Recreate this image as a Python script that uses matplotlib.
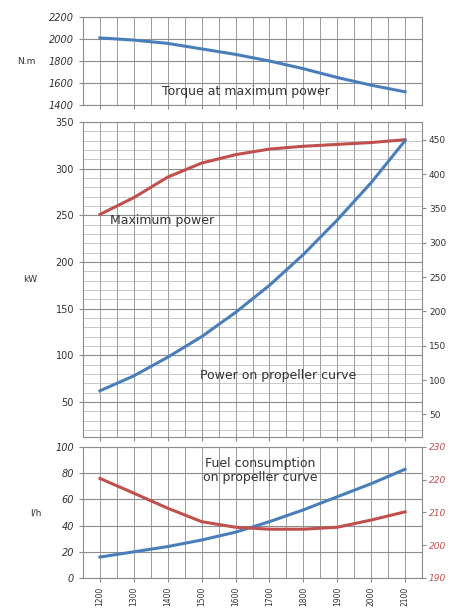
import numpy as np
import matplotlib.pyplot as plt
from matplotlib.ticker import MultipleLocator

# rpm categories
rpm = [1200, 1300, 1400, 1500, 1600, 1700, 1800, 1900, 2000, 2100]

# torque at maximum power (N.m)
torque = [2010, 1990, 1960, 1910, 1860, 1800, 1730, 1650, 1580, 1520]
# maximum power (kW)
p_max = [251, 269, 291, 306, 315, 321, 324, 326, 328, 331]
# power on propeller curve (kW)
p_prop = [62, 78, 98, 120, 146, 175, 208, 245, 285, 330]
# fuel consumption on propeller curve (l/h)
fuel_lh = [16, 20, 24, 29, 35, 43, 52, 62, 72, 83]
# specific consumption (g/kWh), right axis
fuel_spec = [220.4, 215.9, 211.3, 207.2, 205.5, 204.9, 204.9, 205.5, 207.7, 210.2]

blue = "#4a7ebb"
red = "#c0504d"
grid_c = "#8c8c8c"
txt_c = "#333333"

fig = plt.figure(figsize=(4.51, 6.12), dpi=100)
L, W = 83/451, 339/451
ax1 = fig.add_axes([L, 1-105/612, W, 88/612])
ax2 = fig.add_axes([L, 1-437/612, W, 315/612])
ax3 = fig.add_axes([L, 1-578/612, W, 131/612])

def style(ax):
    ax.set_xlim(1150, 2150)
    ax.xaxis.set_major_locator(MultipleLocator(100))
    ax.xaxis.set_minor_locator(MultipleLocator(50))
    ax.grid(True, which="both", axis="x", color=grid_c, lw=0.6)
    ax.grid(True, which="major", axis="y", color=grid_c, lw=0.8)
    for s in ax.spines.values():
        s.set_color(grid_c)
        s.set_linewidth(0.8)
    ax.tick_params(axis="both", which="both", color=grid_c, length=3, labelsize=7, labelcolor=txt_c)
    ax.tick_params(axis="x", which="minor", length=0)
    ax.set_axisbelow(True)

# top: torque
style(ax1)
ax1.plot(rpm, torque, color=blue, lw=2.2)
ax1.set_ylim(1400, 2200)
ax1.yaxis.set_major_locator(MultipleLocator(200))
ax1.set_xticklabels([])
ax1.set_ylabel("N.m", rotation=0, fontsize=6.5, color=txt_c, labelpad=16, va="center")
ax1.text(1631, 1520, "Torque at maximum power", ha="center", va="center", fontsize=9, color=txt_c)
for t in ax1.get_yticklabels():
    t.set_style("italic")

# middle: power
style(ax2)
ax2.plot(rpm, p_max, color=red, lw=2.2)
ax2.plot(rpm, p_prop, color=blue, lw=2.2)
ax2.set_ylim(12.5, 350)
ax2.yaxis.set_major_locator(MultipleLocator(50))
ax2.yaxis.set_minor_locator(MultipleLocator(10))
ax2.grid(True, which="minor", axis="y", color="#b0b0b0", lw=0.5)
ax2.tick_params(axis="y", which="minor", length=0)
ax2.set_xticklabels([])
ax2.set_ylabel("kW", rotation=0, fontsize=6.5, color=txt_c, labelpad=18, va="center")
ax2.text(1230, 244, "Maximum power", ha="left", va="center", fontsize=9, color=txt_c)
ax2.text(1495, 78, "Power on propeller curve", ha="left", va="center", fontsize=9, color=txt_c)
ax2r = ax2.twinx()
ax2r.set_ylim(12.5*1.36, 350*1.36)
ax2r.yaxis.set_major_locator(MultipleLocator(50))
ax2r.tick_params(axis="y", color=grid_c, length=3, labelsize=6.5, labelcolor=txt_c, pad=2)
for s in ax2r.spines.values():
    s.set_visible(False)

# bottom: fuel
style(ax3)
ax3.plot(rpm, fuel_lh, color=blue, lw=2.2)
ax3.set_ylim(0, 100)
ax3.yaxis.set_major_locator(MultipleLocator(20))
ax3.set_xticks(rpm)
ax3.set_xticklabels([str(r) for r in rpm], rotation=90, fontsize=5.5)
ax3.set_ylabel("l/h", rotation=0, fontsize=6.5, color=txt_c, labelpad=14, va="center")
ax3.text(1672, 82, "Fuel consumption\non propeller curve", ha="center", va="center",
         fontsize=9, color=txt_c, linespacing=1.15)
for t in ax3.get_yticklabels():
    t.set_style("italic")
ax3r = ax3.twinx()
ax3r.plot(rpm, fuel_spec, color=red, lw=2.2)
ax3r.set_ylim(190, 230)
ax3r.yaxis.set_major_locator(MultipleLocator(10))
ax3r.tick_params(axis="y", color=grid_c, length=3, labelsize=6.5, labelcolor=red, pad=2)
for t in ax3r.get_yticklabels():
    t.set_style("italic")
for s in ax3r.spines.values():
    s.set_visible(False)

fig.savefig("out.png", dpi=100)
